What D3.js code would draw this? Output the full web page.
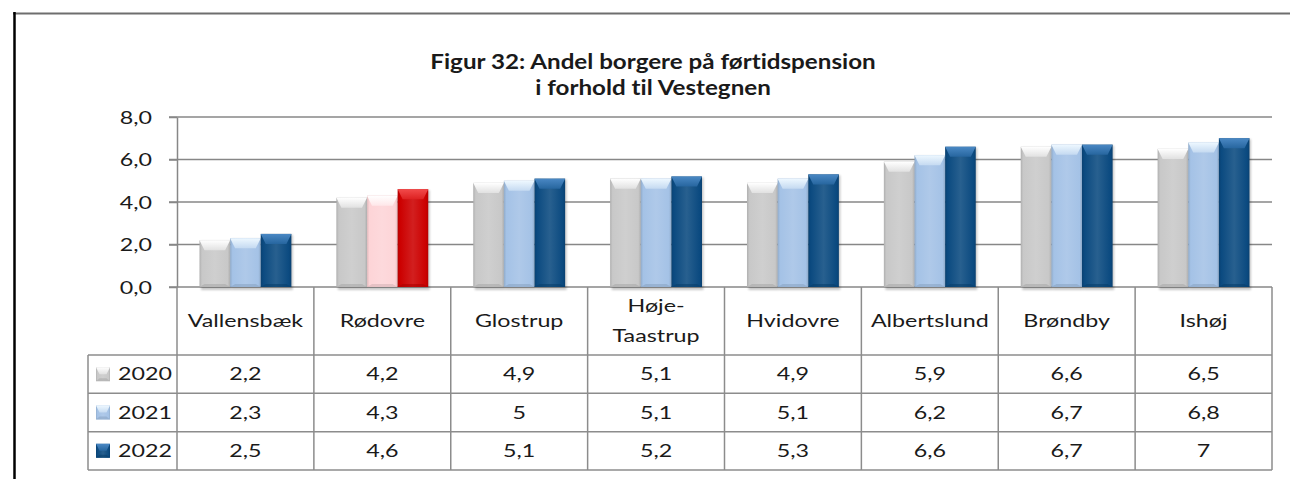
<!DOCTYPE html>
<html>
<head>
<meta charset="utf-8">
<script src="https://cdn.jsdelivr.net/npm/d3@7"></script>
<style>
  html, body { margin: 0; padding: 0; background: #fff; }
  svg { display: block; }
  text { font-variant-ligatures: none; font-feature-settings: "liga" 0; }
</style>
</head>
<body>
<div id="chart"></div>
<script>
// data
var titleLines = ["Figur 32: Andel borgere på førtidspension", "i forhold til Vestegnen"];
var municipalities = ["Vallensbæk", "Rødovre", "Glostrup", "Høje-Taastrup", "Hvidovre", "Albertslund", "Brøndby", "Ishøj"];
var years = ["2020", "2021", "2022"];
var values2020 = [2.2, 4.2, 4.9, 5.1, 4.9, 5.9, 6.6, 6.5];
var values2021 = [2.3, 4.3, 5, 5.1, 5.1, 6.2, 6.7, 6.8];
var values2022 = [2.5, 4.6, 5.1, 5.2, 5.3, 6.6, 6.7, 7];
var yTicks = [0, 2, 4, 6, 8];

var seriesValues = { "2020": values2020, "2021": values2021, "2022": values2022 };

// colours: normal and the highlighted municipality (Rødovre)
var colors = { "2020": "#c8c8c8", "2021": "#a4c2e6", "2022": "#0b4a80" };
var topColors = { "2020": "#ffffff", "2021": "#eef8ff", "2022": "#4a88c4" };
var hiColors = { "2020": "#c8c8c8", "2021": "#fdd4d7", "2022": "#cc0000" };
var hiTopColors = { "2020": "#ffffff", "2021": "#ffffff", "2022": "#f24a4a" };
var highlighted = "Rødovre";

var width = 1290, height = 479;
var margin = { top: 117, left: 177, right: 18 };
var plotBottom = 287;
var headerBottom = 355, tableBottom = 470, tableLeft = 88;
var sx = 1.33; // the figure's text is drawn wide

var svg = d3.select("#chart").append("svg")
  .attr("width", width)
  .attr("height", height)
  .style("font-family", "Lato, 'Open Sans', sans-serif");

var defs = svg.append("defs");
defs.append("filter").attr("id", "shadow")
  .attr("x", "-20%").attr("y", "-10%").attr("width", "150%").attr("height", "130%")
  .append("feGaussianBlur").attr("stdDeviation", 1.3);

var gradCount = 0;
function vGrad(c1, c2) {
  var id = "g" + (gradCount++);
  var lg = defs.append("linearGradient").attr("id", id)
    .attr("x1", 0).attr("y1", 0).attr("x2", 0).attr("y2", 1);
  lg.append("stop").attr("offset", "0%").attr("stop-color", c1);
  lg.append("stop").attr("offset", "100%").attr("stop-color", c2);
  return "url(#" + id + ")";
}
function hGrad(stops) {
  var id = "g" + (gradCount++);
  var lg = defs.append("linearGradient").attr("id", id)
    .attr("x1", 0).attr("y1", 0).attr("x2", 1).attr("y2", 0);
  stops.forEach(function(s) {
    lg.append("stop").attr("offset", s[0]).attr("stop-color", s[1]);
  });
  return "url(#" + id + ")";
}

// frame
svg.append("line").attr("x1", 13).attr("x2", width).attr("y1", 13.5).attr("y2", 13.5)
  .attr("stroke", "#6e6e6e").attr("stroke-width", 2);
svg.append("line").attr("x1", 14.5).attr("x2", 14.5).attr("y1", 12).attr("y2", height)
  .attr("stroke", "#000").attr("stroke-width", 2.5);

// helper for wide text
function wideText(parent, x, y, txt, anchor, size, weight, scale) {
  var g = parent.append("g")
    .attr("transform", "translate(" + x + "," + y + ") scale(" + (scale || sx) + ",1)");
  return g.append("text")
    .attr("text-anchor", anchor || "middle")
    .attr("font-size", size || 17.5)
    .attr("font-weight", weight || "normal")
    .attr("fill", "#1a1a1a")
    .text(txt);
}

// title
titleLines.forEach(function(t, i) {
  wideText(svg, 653, 69 + i * 26, t, "middle", 20.5, "bold", 1.18);
});

// scales
var xScale = d3.scaleBand().domain(municipalities).range([margin.left, width - margin.right]);
var xInner = d3.scaleBand().domain(years).range([22.5, xScale.bandwidth() - 22.5]);
var yScale = d3.scaleLinear().domain([0, 8]).range([plotBottom, margin.top]);

// gridlines
svg.append("g").selectAll("line")
  .data(yTicks)
  .enter().append("line")
  .attr("x1", margin.left - 8)
  .attr("x2", width - margin.right)
  .attr("y1", function(d) { return yScale(d); })
  .attr("y2", function(d) { return yScale(d); })
  .attr("stroke", "#878787")
  .attr("stroke-width", 1.5);

// y axis
var yAxis = d3.axisLeft(yScale).tickValues(yTicks).tickSizeInner(8).tickSizeOuter(0)
  .tickFormat(function(d) { return d3.format(".1f")(d).replace(".", ","); });
var yAxisG = svg.append("g").attr("transform", "translate(" + margin.left + ",0)").call(yAxis);
yAxisG.select(".domain").attr("stroke", "#878787").attr("stroke-width", 1.5);
yAxisG.selectAll(".tick line").attr("stroke", "#878787").attr("stroke-width", 1.5);
yAxisG.selectAll(".tick text")
  .attr("font-family", "Lato, 'Open Sans', sans-serif")
  .attr("font-size", 17.5)
  .attr("fill", "#1a1a1a")
  .attr("x", -25 / sx)
  .attr("dy", "0.36em")
  .attr("transform", "scale(" + sx + ",1)");

// bars with a bevel look
var fillCache = {};
function bevelBar(g, x, y, w, h, base, top, shadow) {
  var b = Math.min(5, w / 4), bt = Math.min(10, h / 2), bb = Math.min(3, h / 4);
  if (!fillCache[base]) {
    var lighter = d3.interpolateRgb(base, "#fff")(0.12);
    var darker = d3.interpolateRgb(base, "#000")(0.12);
    fillCache[base] = {
      face: hGrad([["0%", darker], ["8%", base], ["50%", lighter], ["92%", base], ["100%", darker]]),
      top: vGrad(top, d3.interpolateRgb(top, base)(0.55)),
      bottom: d3.interpolateRgb(base, "#000")(0.15)
    };
  }
  var f = fillCache[base];
  if (shadow !== false) {
    g.append("rect").attr("x", x + 1.5).attr("y", y + 1).attr("width", w).attr("height", h + 2)
      .attr("fill", "#000").attr("opacity", 0.22).attr("filter", "url(#shadow)");
  }
  g.append("rect").attr("x", x).attr("y", y).attr("width", w).attr("height", h).attr("fill", f.face);
  var poly = function(pts, fill, op) {
    g.append("polygon").attr("points", pts.map(function(p) { return p.join(","); }).join(" "))
      .attr("fill", fill).attr("opacity", op == null ? 1 : op);
  };
  poly([[x, y + h], [x + b, y + h - bb], [x + w - b, y + h - bb], [x + w, y + h]], f.bottom, 0.6);
  poly([[x, y], [x + w, y], [x + w - b, y + bt], [x + b, y + bt]], f.top);
}

var barsG = svg.append("g");
municipalities.forEach(function(m, i) {
  years.forEach(function(yr) {
    var v = seriesValues[yr][i];
    var isHi = m === highlighted;
    var x = xScale(m) + xInner(yr);
    bevelBar(barsG, x, yScale(v), xInner.bandwidth(), yScale(0) - yScale(v),
      isHi ? hiColors[yr] : colors[yr], isHi ? hiTopColors[yr] : topColors[yr]);
  });
});

// data table
var rowScale = d3.scaleBand().domain(years).range([headerBottom, tableBottom]);
var table = svg.append("g");
var lineColor = "#8c8c8c";

// horizontal lines
[headerBottom].concat(years.map(function(yr) { return rowScale(yr) + rowScale.bandwidth(); }))
  .forEach(function(yy) {
    table.append("line").attr("x1", tableLeft).attr("x2", width - margin.right)
      .attr("y1", yy).attr("y2", yy).attr("stroke", lineColor).attr("stroke-width", 1.5);
  });
// vertical lines
municipalities.forEach(function(m) {
  table.append("line").attr("x1", xScale(m)).attr("x2", xScale(m))
    .attr("y1", plotBottom).attr("y2", tableBottom).attr("stroke", lineColor).attr("stroke-width", 1.5);
});
table.append("line").attr("x1", width - margin.right).attr("x2", width - margin.right)
  .attr("y1", plotBottom).attr("y2", tableBottom).attr("stroke", lineColor).attr("stroke-width", 1.5);
table.append("line").attr("x1", tableLeft).attr("x2", tableLeft)
  .attr("y1", headerBottom).attr("y2", tableBottom).attr("stroke", lineColor).attr("stroke-width", 1.5);

// category labels
municipalities.forEach(function(m) {
  var cx = xScale(m) + xScale.bandwidth() / 2;
  var parts = m.indexOf("-") > 0 ? [m.slice(0, m.indexOf("-") + 1), m.slice(m.indexOf("-") + 1)] : [m];
  var cy = (plotBottom + headerBottom) / 2;
  parts.forEach(function(p, k) {
    wideText(table, cx, cy + 6 + (k - (parts.length - 1) / 2) * 30, p);
  });
});

// values and legend keys
years.forEach(function(yr) {
  var cy = rowScale(yr) + rowScale.bandwidth() / 2;
  municipalities.forEach(function(m, i) {
    var v = seriesValues[yr][i];
    wideText(table, xScale(m) + xScale.bandwidth() / 2, cy + 6, String(v).replace(".", ","));
  });
  var kg = table.append("g");
  bevelBar(kg, 96, cy - 7, 14, 14, colors[yr], topColors[yr], false);
  wideText(table, 118, cy + 6, yr, "start");
});
</script>
</body>
</html>
